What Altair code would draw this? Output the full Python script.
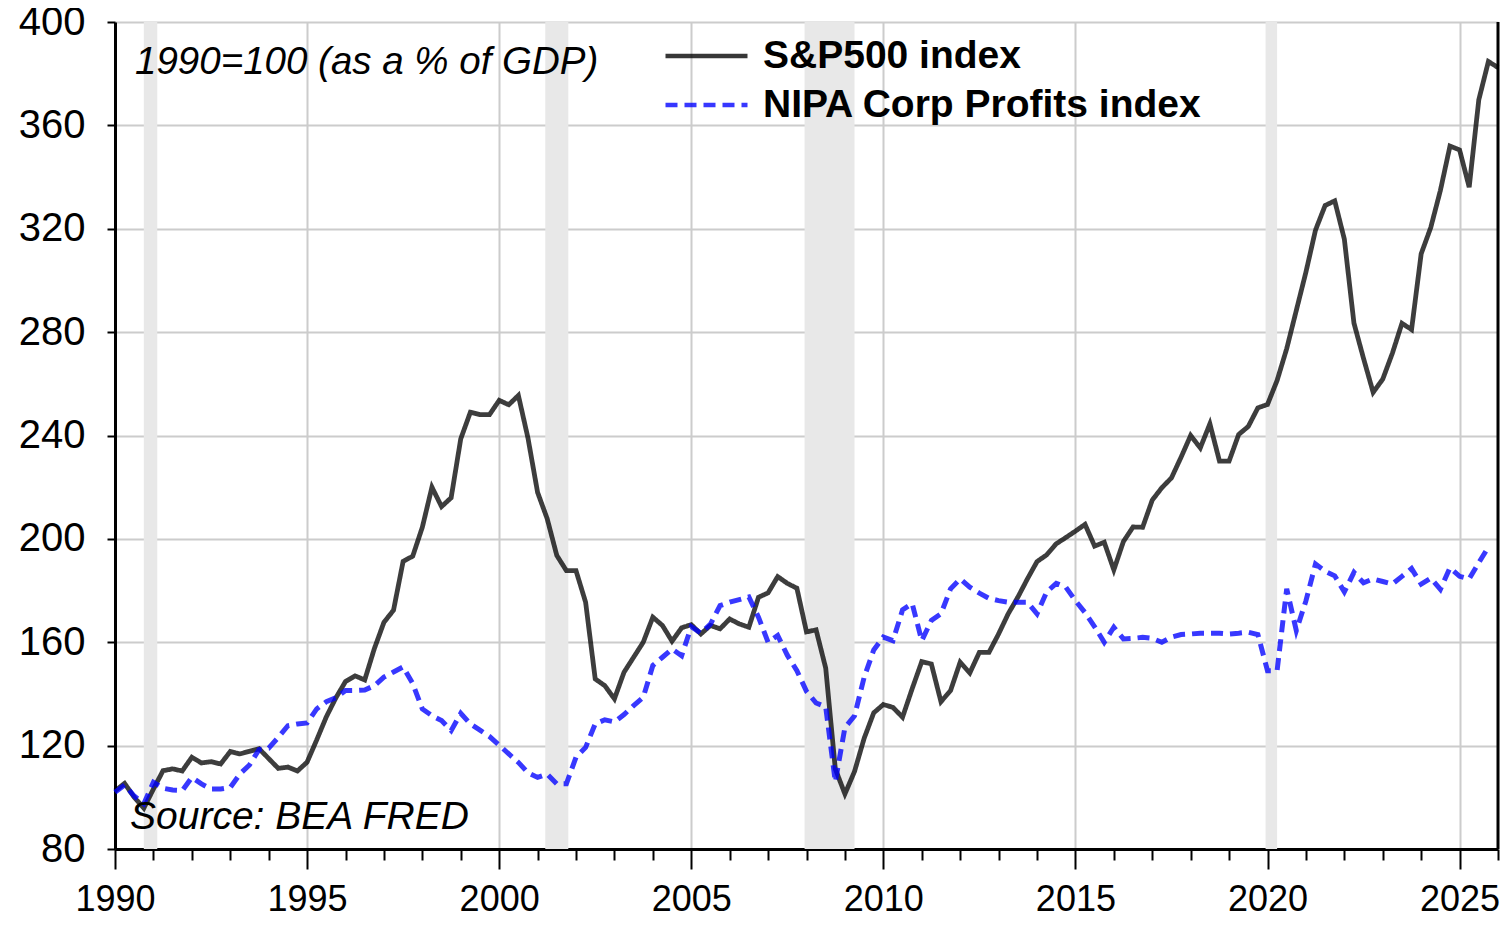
import altair as alt
import pandas as pd

# ---------------- data ----------------
start_year = 1990  # first quarter 1990Q1, quarterly observations
sp500_index = [
    102.5, 105.4, 100.0, 95.8, 103.2, 110.3, 111.0, 110.2, 115.5, 113.3,
    113.8, 112.9, 117.7, 116.8, 117.8, 118.8, 115.0, 111.2, 111.7, 110.2,
    113.6, 122.2, 131.1, 138.5, 144.8, 147.0, 145.4, 157.5, 167.7, 172.4,
    191.3, 193.3, 204.5, 220.0, 212.5, 215.9, 238.7, 249.0, 248.1, 248.1,
    253.6, 251.9, 255.5, 239.0, 218.0, 207.8, 193.6, 187.7, 187.7, 175.5,
    145.8, 143.2, 138.1, 148.4, 154.2, 160.0, 169.7, 166.5, 160.4, 165.6,
    166.8, 163.2, 166.5, 165.2, 169.0, 167.1, 165.8, 177.4, 179.1, 185.4,
    182.8, 180.9, 164.0, 164.8, 150.0, 111.0, 101.3, 110.0, 122.8, 132.7,
    135.9, 134.8, 131.0, 142.0, 152.5, 151.6, 137.0, 141.3, 152.3, 148.1,
    156.1, 156.1, 163.2, 171.0, 177.4, 184.5, 191.2, 193.8, 198.1, 200.5,
    203.0, 205.6, 197.2, 198.7, 188.0, 199.0, 204.6, 204.5, 215.0, 219.8,
    223.6, 231.6, 240.0, 235.2, 244.5, 230.1, 230.1, 240.4, 243.5, 250.7,
    252.0, 261.3, 273.6, 288.4, 303.2, 319.5, 329.0, 330.8, 316.0, 283.5,
    269.8, 256.7, 261.8, 271.8, 283.4, 281.0, 310.3, 320.5, 334.8, 352.0,
    350.5, 336.1, 369.9, 384.7, 382.4,
]
nipa_profits_index = [
    102.0, 104.8, 100.5, 97.5, 105.8, 103.5, 102.8, 102.6, 107.7, 105.2,
    103.2, 103.2, 103.8, 109.0, 112.5, 118.5, 119.0, 123.2, 127.7, 128.4,
    128.8, 134.2, 137.0, 138.5, 141.3, 141.3, 141.5, 143.2, 146.5, 148.5,
    150.5, 144.0, 134.2, 131.6, 129.7, 125.8, 132.5, 128.4, 126.0, 123.5,
    120.2, 116.8, 113.5, 109.5, 107.7, 109.0, 105.2, 105.2, 115.5, 119.3,
    128.4, 130.0, 129.2, 132.0, 135.5, 138.7, 151.0, 154.2, 157.4, 154.8,
    166.0, 163.5, 167.0, 174.2, 175.5, 176.5, 177.5, 169.7, 160.0, 162.6,
    155.0, 149.0, 141.0, 136.5, 135.0, 106.0, 127.0, 131.5, 146.4, 157.0,
    162.0, 160.6, 172.5, 175.0, 160.6, 168.4, 171.0, 180.7, 184.5, 181.3,
    179.0, 177.0, 176.1, 175.5, 175.5, 175.5, 171.0, 179.4, 182.8, 181.3,
    176.1, 171.5, 166.0, 160.0, 165.8, 161.3, 161.5, 161.9, 161.5, 160.0,
    162.0, 163.0, 163.2, 163.5, 163.5, 163.5, 163.2, 163.5, 163.9, 163.0,
    149.0, 149.0, 180.7, 164.5, 176.0, 190.3, 187.5, 185.7, 179.5, 187.0,
    183.0, 184.5, 183.5, 182.5, 185.5, 188.5, 182.5, 184.8, 180.5, 188.8,
    185.5, 184.5, 190.8, 196.8,
]
series_names = ["S&P500 index", "NIPA Corp Profits index"]
recession_start = [1990.75, 2001.2, 2007.95, 2019.95]
recession_end = [1991.1, 2001.8, 2009.25, 2020.25]
x_tick_values = list(range(1990, 2027))
y_tick_values = [80, 120, 160, 200, 240, 280, 320, 360, 400]
note_text = ["1990=100 (as a % of GDP)"]
source_text = ["Source: BEA FRED"]

# ---------------- tables ----------------
def quarter_time(i):
    return start_year + i / 4.0

sp_df = pd.DataFrame({
    "t": [quarter_time(i) for i in range(len(sp500_index))],
    "value": sp500_index,
    "series": series_names[0],
})
nipa_df = pd.DataFrame({
    "t": [quarter_time(i) for i in range(len(nipa_profits_index))],
    "value": nipa_profits_index,
    "series": series_names[1],
})
rec_df = pd.DataFrame({"start": recession_start, "end": recession_end})
border_df = pd.DataFrame({"t": [x_tick_values[-1]]})

# ---------------- styling ----------------
FONT = "Liberation Sans"
W, H = 1383, 827

xscale = alt.Scale(domain=[1990, 2026], nice=False, zero=False)
yscale = alt.Scale(domain=[80, 400], nice=False, zero=False)

major = "datum.value % 5 === 0"
x_axis = alt.Axis(
    values=x_tick_values, format="d", title=None,
    labelExpr=f"{major} ? datum.label : ''",
    labelOverlap=False, labelFontSize=36, labelPadding=13, labelFlush=False,
    tickSize={"condition": {"test": major, "value": 20}, "value": 11},
    tickColor="black", tickWidth=2,
    grid=True, gridColor="#cccccc", gridWidth=2,
    gridOpacity={"condition": {"test": major, "value": 1}, "value": 0},
    domainColor="black", domainWidth=3,
)
y_axis = alt.Axis(
    values=y_tick_values, title=None, labelFontSize=40, labelPadding=22,
    tickSize=8, tickColor="black", tickWidth=2,
    grid=True, gridColor="#cccccc", gridWidth=2,
    domainColor="black", domainWidth=3, labelFlush=False,
)

legend = alt.Legend(
    title=None, orient="none", legendX=548, legendY=16,
    symbolType="stroke", symbolSize=6724, symbolStrokeWidth=4.5,
    symbolOpacity=0.78, clipHeight=36, rowPadding=10,
    labelFontSize=39, labelFontWeight="bold", labelFont=FONT,
    labelColor="black", labelOffset=13, labelLimit=0, padding=0,
)
color = alt.Color("series:N", scale=alt.Scale(domain=series_names, range=["#000000", "#0000ff"]), legend=legend)
dash = alt.StrokeDash("series:N", scale=alt.Scale(domain=series_names, range=[[1, 0], [12, 7]]), legend=legend)

X = lambda f: alt.X(f, scale=xscale, axis=x_axis)
Y = lambda f: alt.Y(f, scale=yscale, axis=y_axis)

bands = alt.Chart(rec_df).mark_rect(color="#e8e8e8").encode(x=X("start:Q"), x2="end:Q")

line_sp = alt.Chart(sp_df).mark_line(strokeWidth=4.8, strokeOpacity=0.76).encode(
    x=X("t:Q"), y=Y("value:Q"), color=color, strokeDash=dash)
line_nipa = alt.Chart(nipa_df).mark_line(strokeWidth=5, strokeOpacity=0.78).encode(
    x=X("t:Q"), y=Y("value:Q"), color=color, strokeDash=dash)

border = alt.Chart(border_df).mark_rule(color="black", strokeWidth=3).encode(x=X("t:Q"))

note = alt.Chart(pd.DataFrame({"label": note_text})).mark_text(
    align="left", baseline="middle", font=FONT, fontSize=38.5, fontStyle="italic", color="black"
).encode(text="label:N", x=alt.value(20), y=alt.value(40))

source = alt.Chart(pd.DataFrame({"label": source_text})).mark_text(
    align="left", baseline="middle", font=FONT, fontSize=39, fontStyle="italic", color="black"
).encode(text="label:N", x=alt.value(15), y=alt.value(795))

chart = alt.layer(bands, line_sp, line_nipa, border, note, source).properties(
    width=W, height=H,
    padding={"left": 107, "top": 14, "right": 2, "bottom": 69},
    autosize=alt.AutoSizeParams(type="none"),
).configure_view(stroke=None).configure_axis(labelFont=FONT, labelColor="black")

chart.save("out.html", embed_options={"renderer": "svg", "actions": False})
